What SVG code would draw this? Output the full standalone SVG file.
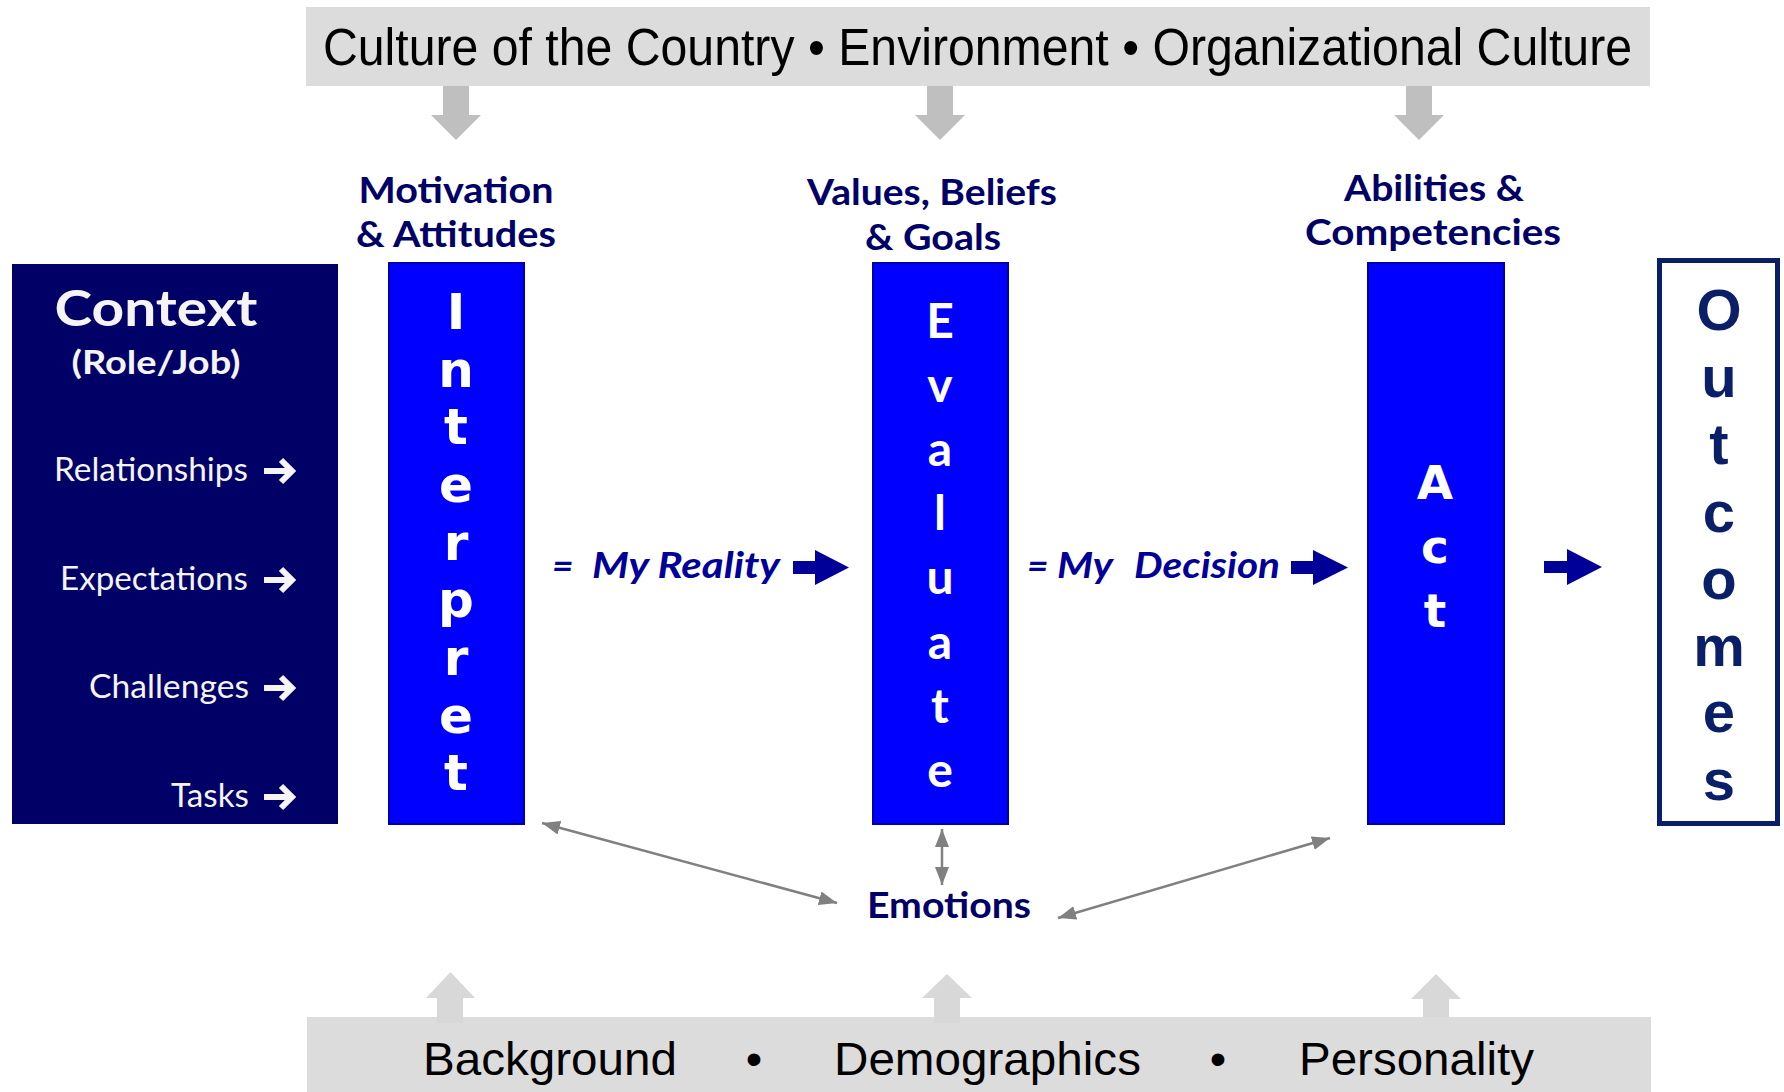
<svg xmlns="http://www.w3.org/2000/svg" width="1784" height="1092" viewBox="0 0 1784 1092">
  <style>
    .band { fill: #dcdcdc; }
    .band-text { font-family: "Liberation Sans", Arial, sans-serif; font-size: 51px; fill: #000; }
    .foot-text { font-family: "Liberation Sans", Arial, sans-serif; font-size: 47px; fill: #000; }
    .down-arrow { fill: #bfbfbf; }
    .up-arrow { fill: #d8d8d8; }
    .head { font-family: Lato, "Open Sans", sans-serif; font-weight: 700; font-size: 37px; fill: #000066; text-anchor: middle; }
    .ctx-box { fill: #000066; }
    .ctx-title { font-family: Lato, "Open Sans", sans-serif; font-weight: 700; fill: #f4f4f4; text-anchor: middle; }
    .ctx-item { font-family: Lato, "Open Sans", sans-serif; font-size: 33px; fill: #f4f4f4; text-anchor: end; }
    .ctx-arrow { fill: none; stroke: #f4f4f4; stroke-width: 6; stroke-linejoin: miter; }
    .step { fill: #0000ff; stroke: #0000a8; stroke-width: 2; }
    .wide-letters { font-family: "DejaVu Sans", Verdana, sans-serif; font-weight: 700; fill: #fff; text-anchor: middle; }
    .eval-letters { font-family: Lato, "Open Sans", sans-serif; font-weight: 700; font-size: 48px; fill: #fff; text-anchor: middle; }
    .out-box { fill: #fff; stroke: #0b1f69; stroke-width: 5; }
    .out-letters { font-family: "Liberation Sans", Arial, sans-serif; font-weight: 700; font-size: 58px; fill: #0b1f69; text-anchor: middle; }
    .flow-label { font-family: Lato, "Open Sans", sans-serif; font-weight: 700; font-style: italic; font-size: 37px; fill: #000099; }
    .flow-arrow { fill: #000099; }
    .emo-label { font-family: Lato, "Open Sans", sans-serif; font-weight: 700; font-size: 37px; fill: #000066; }
    .emo-link { stroke: #808080; stroke-width: 2.5; fill: none; marker-start: url(#gray-head); marker-end: url(#gray-head); }
  </style>
  <defs>
    <marker id="gray-head" markerUnits="userSpaceOnUse" markerWidth="18" markerHeight="14" refX="18" refY="7" orient="auto-start-reverse">
      <path d="M0,0 L18,7 L0,14 Z" fill="#808080"/>
    </marker>
  </defs>

  <rect width="1784" height="1092" fill="#fff"/>

  <!-- influences from above -->
  <g id="influences-top">
    <rect class="band" x="306" y="7" width="1344" height="79"/>
    <text class="band-text" x="323" y="65" textLength="1309" lengthAdjust="spacingAndGlyphs">Culture of the Country • Environment • Organizational Culture</text>
  </g>

  <!-- influences from below -->
  <g id="influences-bottom">
    <rect class="band" x="307" y="1017" width="1344" height="75"/>
    <text class="foot-text" x="423" y="1075" textLength="254" lengthAdjust="spacingAndGlyphs">Background</text>
    <text class="foot-text" x="754" y="1075" text-anchor="middle">•</text>
    <text class="foot-text" x="834" y="1075" textLength="307" lengthAdjust="spacingAndGlyphs">Demographics</text>
    <text class="foot-text" x="1218" y="1075" text-anchor="middle">•</text>
    <text class="foot-text" x="1299" y="1075" textLength="235" lengthAdjust="spacingAndGlyphs">Personality</text>
  </g>

  <!-- column headings -->
  <g id="heading-motivation">
    <text class="head" x="456" y="203" textLength="195" lengthAdjust="spacingAndGlyphs">Motivation</text>
    <text class="head" x="456" y="247" textLength="200" lengthAdjust="spacingAndGlyphs">&amp; Attitudes</text>
  </g>
  <g id="heading-values">
    <text class="head" x="932" y="205" textLength="250" lengthAdjust="spacingAndGlyphs">Values, Beliefs</text>
    <text class="head" x="933" y="250" textLength="136" lengthAdjust="spacingAndGlyphs">&amp; Goals</text>
  </g>
  <g id="heading-abilities">
    <text class="head" x="1434" y="201" font-size="36" textLength="180" lengthAdjust="spacingAndGlyphs">Abilities &amp;</text>
    <text class="head" x="1433" y="245" font-size="36" textLength="256" lengthAdjust="spacingAndGlyphs">Competencies</text>
  </g>

  <!-- context panel -->
  <g id="context">
    <rect class="ctx-box" x="12" y="264" width="326" height="560"/>
    <text class="ctx-title" x="156" y="326" font-size="49" textLength="203" lengthAdjust="spacingAndGlyphs">Context</text>
    <text class="ctx-title" x="156" y="374" font-size="33" textLength="169" lengthAdjust="spacingAndGlyphs">(Role/Job)</text>
    <text class="ctx-item" x="248" y="481" textLength="194" lengthAdjust="spacingAndGlyphs">Relationships</text>
    <text class="ctx-item" x="248" y="590" textLength="188" lengthAdjust="spacingAndGlyphs">Expectations</text>
    <text class="ctx-item" x="249" y="698" textLength="160" lengthAdjust="spacingAndGlyphs">Challenges</text>
    <text class="ctx-item" x="249" y="807" textLength="78" lengthAdjust="spacingAndGlyphs">Tasks</text>
    <path class="ctx-arrow" d="M264,471 H290 M281,460 L292,471 L281,482"/>
    <path class="ctx-arrow" d="M264,580 H290 M281,569 L292,580 L281,591"/>
    <path class="ctx-arrow" d="M264,688 H290 M281,677 L292,688 L281,699"/>
    <path class="ctx-arrow" d="M264,797 H290 M281,786 L292,797 L281,808"/>
  </g>

  <!-- interpret -->
  <g id="interpret">
    <rect class="step" x="389" y="263" width="135" height="561"/>
    <text class="wide-letters" font-size="50"><tspan x="456" y="329">I</tspan><tspan x="456" y="387">n</tspan><tspan x="456" y="444">t</tspan><tspan x="456" y="502">e</tspan><tspan x="456" y="560">r</tspan><tspan x="456" y="617">p</tspan><tspan x="456" y="675">r</tspan><tspan x="456" y="733">e</tspan><tspan x="456" y="790">t</tspan></text>
  </g>

  <!-- evaluate -->
  <g id="evaluate">
    <rect class="step" x="873" y="263" width="135" height="561"/>
    <text class="eval-letters"><tspan x="940" y="338">E</tspan><tspan x="940" y="402">v</tspan><tspan x="940" y="466">a</tspan><tspan x="940" y="530">l</tspan><tspan x="940" y="594">u</tspan><tspan x="940" y="659">a</tspan><tspan x="940" y="723">t</tspan><tspan x="940" y="787">e</tspan></text>
  </g>

  <!-- act -->
  <g id="act">
    <rect class="step" x="1368" y="263" width="136" height="561"/>
    <text class="wide-letters" font-size="47"><tspan x="1435" y="499">A</tspan><tspan x="1435" y="563">c</tspan><tspan x="1435" y="627">t</tspan></text>
  </g>

  <!-- outcomes -->
  <g id="outcomes">
    <rect class="out-box" x="1659.5" y="260.5" width="118" height="563"/>
    <text class="out-letters"><tspan x="1719" y="330">O</tspan><tspan x="1719" y="397">u</tspan><tspan x="1719" y="464">t</tspan><tspan x="1719" y="532">c</tspan><tspan x="1719" y="599">o</tspan><tspan x="1719" y="666">m</tspan><tspan x="1719" y="732">e</tspan><tspan x="1719" y="800">s</tspan></text>
  </g>

  <!-- emotions -->
  <g id="emotions">
    <text class="emo-label" x="867" y="918" textLength="164" lengthAdjust="spacingAndGlyphs">Emotions</text>
  </g>

  <!-- connectors -->
  <g id="connectors">
    <!-- grey block arrows from the outer influences -->
    <path class="down-arrow" d="M443,86 H469 V115 H481 L456,140 L431,115 H443 Z"/>
    <path class="down-arrow" d="M927,86 H953 V115 H965 L940,140 L915,115 H927 Z"/>
    <path class="down-arrow" d="M1406,86 H1432 V115 H1444 L1419,140 L1394,115 H1406 Z"/>
    <path class="up-arrow" d="M437,1023 V998 H426 L450.5,972 L475,998 H463 V1023 Z"/>
    <path class="up-arrow" d="M934,1023 V998 H922 L947,974 L972,998 H960 V1023 Z"/>
    <path class="up-arrow" d="M1423,1017 V999 H1411 L1436,974 L1461,999 H1449 V1017 Z"/>

    <!-- flow labels and block arrows -->
    <text class="flow-label"><tspan x="552" y="578">=</tspan><tspan x="592" y="578" textLength="188" lengthAdjust="spacingAndGlyphs">My Reality</tspan></text>
    <path class="flow-arrow" d="M793,561 H815 V550 L849,567.5 L815,585 V574 H793 Z"/>
    <text class="flow-label"><tspan x="1027" y="578">=</tspan><tspan x="1057" y="578" textLength="56" lengthAdjust="spacingAndGlyphs">My</tspan><tspan x="1134" y="578" textLength="146" lengthAdjust="spacingAndGlyphs">Decision</tspan></text>
    <path class="flow-arrow" d="M1291,561 H1313 V550 L1348,567.5 L1313,585 V574 H1291 Z"/>
    <path class="flow-arrow" d="M1544,561 H1567 V549 L1602,567 L1567,585 V573 H1544 Z"/>

    <!-- emotions links -->
    <line class="emo-link" x1="542" y1="823" x2="837" y2="903"/>
    <line class="emo-link" x1="942" y1="829" x2="942" y2="885"/>
    <line class="emo-link" x1="1058" y1="918" x2="1330" y2="838"/>
  </g>
</svg>
